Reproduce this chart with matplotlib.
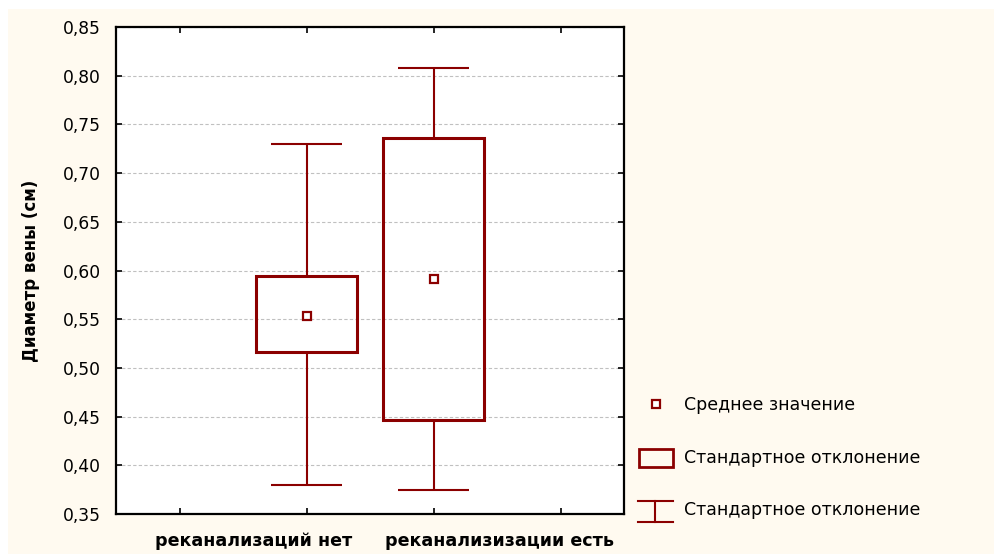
import matplotlib
matplotlib.use("Agg")
import matplotlib.pyplot as plt
from matplotlib.patches import Rectangle
from matplotlib.lines import Line2D
from matplotlib.transforms import blended_transform_factory

plt.rcParams['font.family'] = ['DejaVu Sans']

categories = ["реканализаций нет", "реканализизации есть"]
means = [0.553, 0.591]
box_low = [0.516, 0.446]
box_high = [0.594, 0.736]
whisk_low = [0.380, 0.375]
whisk_high = [0.730, 0.808]
yticks = [0.35, 0.40, 0.45, 0.50, 0.55, 0.60, 0.65, 0.70, 0.75, 0.80, 0.85]
ylabel = "Диаметр вены (см)"
legend_labels = ["Среднее значение", "Стандартное отклонение", "Стандартное отклонение"]

red = "#8b0000"
W, H = 994, 554
fig = plt.figure(figsize=(W / 100, H / 100), dpi=100, facecolor="white")
fig.add_artist(Rectangle((8 / W, 0), (W - 8) / W, (H - 9) / H, transform=fig.transFigure,
                         facecolor="#fffaf0", edgecolor="none", zorder=0))

ax = fig.add_axes([116 / W, (H - 514) / H, (624 - 116) / W, (514 - 27) / H])
ax.set_facecolor("white")
xs = [1, 2]
ax.bar(xs, [h - l for h, l in zip(box_high, box_low)], bottom=box_low, width=0.8,
       fill=False, edgecolor=red, linewidth=2.2, zorder=3)
ax.vlines(xs, whisk_low, box_low, color=red, linewidth=1.5, zorder=3)
ax.vlines(xs, box_high, whisk_high, color=red, linewidth=1.5, zorder=3)
ax.hlines(whisk_low, [x - 0.28 for x in xs], [x + 0.28 for x in xs], color=red, linewidth=1.5, zorder=3)
ax.hlines(whisk_high, [x - 0.28 for x in xs], [x + 0.28 for x in xs], color=red, linewidth=1.5, zorder=3)
ax.plot(xs, means, linestyle="none", marker="s", markersize=5.4, markerfacecolor="white",
        markeredgecolor=red, markeredgewidth=1.6, zorder=4)

ax.set_xlim(-0.5, 3.5)
ax.set_ylim(0.35, 0.85)
ax.set_xticks([0, 1, 2, 3])
ax.set_xticklabels(["", "", "", ""])
ax.set_yticks(yticks)
ax.set_yticklabels([f"{v:.2f}".replace(".", ",") for v in yticks], fontsize=12.3)
ax.tick_params(direction="in", length=4, width=1.2, top=True, right=True, pad=11)
for s in ax.spines.values():
    s.set_linewidth(1.6)
ax.grid(axis="y", color="#c0c0c0", linestyle=(0, (3, 2)), linewidth=0.8)
ax.set_axisbelow(True)
ax.set_ylabel(ylabel, fontsize=12, fontweight="bold", labelpad=16)

# category labels (positioned as in the reference, offset from the ticks)
tr = blended_transform_factory(ax.transData, fig.transFigure)
for xpos, lab in zip([0.58, 2.52], categories):
    ax.text(xpos, (H - 541) / H, lab, transform=tr, ha="center", va="center",
            fontsize=12.6, fontweight="bold")

# legend (manual)
def fx(px):
    return px / W

def fy(py):
    return (H - py) / H

fig.add_artist(Line2D([fx(656)], [fy(404)], transform=fig.transFigure, linestyle="none",
                      marker="s", markersize=5.4, markerfacecolor="white", markeredgecolor=red,
                      markeredgewidth=1.6))
fig.add_artist(Rectangle((fx(639), fy(467)), (673 - 639) / W, (467 - 449) / H,
                         transform=fig.transFigure, fill=False, edgecolor=red, linewidth=2.0))
fig.add_artist(Line2D([fx(638), fx(673)], [fy(501), fy(501)], transform=fig.transFigure, color=red, linewidth=1.5))
fig.add_artist(Line2D([fx(638), fx(673)], [fy(522), fy(522)], transform=fig.transFigure, color=red, linewidth=1.5))
fig.add_artist(Line2D([fx(655), fx(655)], [fy(501), fy(522)], transform=fig.transFigure, color=red, linewidth=1.5))
for lab, py in zip(legend_labels, [405, 458, 510]):
    fig.text(fx(684), fy(py), lab, fontsize=12.5, va="center", ha="left")

fig.savefig("out.png", dpi=100, facecolor=fig.get_facecolor())
